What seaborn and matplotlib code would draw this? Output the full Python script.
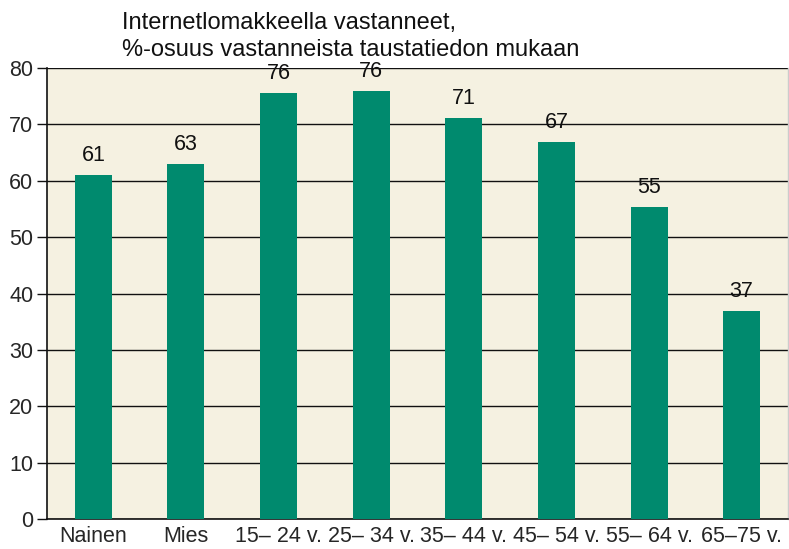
import matplotlib
matplotlib.use("Agg")
import matplotlib.pyplot as plt
import seaborn as sns
import pandas as pd
import numpy as np

# Data
categories = ["Nainen", "Mies", "15– 24 v.", "25– 34 v.", "35– 44 v.",
              "45– 54 v.", "55– 64 v.", "65–75 v."]
shares = [61.0, 63.0, 75.6, 75.9, 71.1, 66.9, 55.3, 36.9]
labels = ["61", "63", "76", "76", "71", "67", "55", "37"]
yticks = [0, 10, 20, 30, 40, 50, 60, 70, 80]

df = pd.DataFrame({"ryhma": categories, "osuus": shares})

sns.set_style("white")
plt.rcParams["font.family"] = ["Liberation Sans", "DejaVu Sans"]

fig = plt.figure(figsize=(7.89, 5.49), dpi=100)
ax = fig.add_axes([0.0596, 0.0546, 0.9391, 0.8215])
ax.set_facecolor("#f5f1e1")

sns.barplot(data=df, x="ryhma", y="osuus", color="#008a6e", width=0.4,
            saturation=1, linewidth=0, ax=ax, zorder=3)

for i, (v, lab) in enumerate(zip(shares, labels)):
    ax.text(i, v + 1.6, lab, ha="center", va="bottom", fontsize=15.5, color="#111111")

ax.set_ylim(0, 80)
ax.set_xlim(-0.5, len(categories) - 0.5)
ax.set_yticks(yticks)
ax.yaxis.grid(True, color="#111111", linewidth=1.0, zorder=1)
ax.set_axisbelow(True)

# category labels centred, tick marks at the boundaries
ax.set_xticks(range(len(categories)))
ax.set_xticklabels(categories)
ax.set_xticks(np.arange(-0.5, len(categories)), minor=True)
ax.tick_params(axis="x", which="major", length=0, labelsize=15.5, pad=5)
ax.tick_params(axis="x", which="minor", length=7, width=1, color="#111111", direction="out")
ax.tick_params(axis="y", length=7, width=1, color="#111111", labelsize=15.5, pad=3, left=True)

for s in ["left", "bottom"]:
    ax.spines[s].set_color("#111111")
    ax.spines[s].set_linewidth(1.2)
ax.spines["top"].set_visible(False)
ax.spines["right"].set_color("#cccccc")
ax.spines["right"].set_linewidth(1)

ax.set_xlabel("")
ax.set_ylabel("")

fig.text(0.155, 0.979, "Internetlomakkeella vastanneet,\n%-osuus vastanneista taustatiedon mukaan",
         ha="left", va="top", fontsize=17, linespacing=1.3, color="#111111")

fig.savefig("out.png", dpi=100, facecolor="white")
